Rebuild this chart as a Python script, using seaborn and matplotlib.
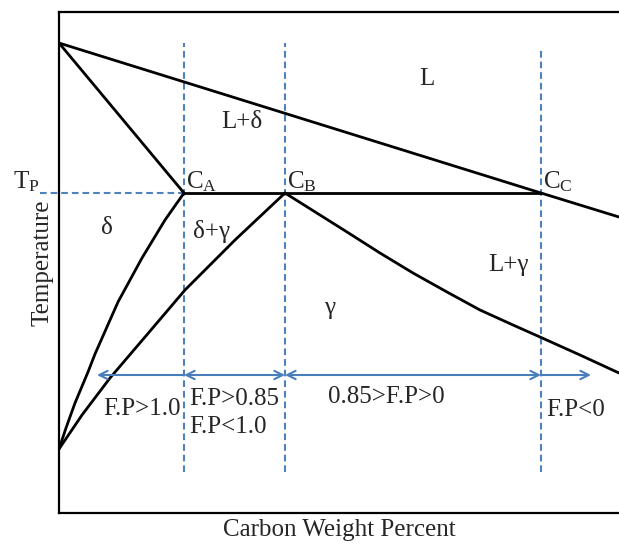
import matplotlib
matplotlib.use("Agg")
import matplotlib.pyplot as plt
import seaborn as sns
import pandas as pd

# ---- data (schematic units: carbon -> x, temperature -> y) ----
liq_c = [0, 482, 560]
liq_t = [470, 320, 296]
sol_delta_c = [0, 125]
sol_delta_t = [470, 320]
peritectic_c = [125, 482]
peritectic_t = [320, 320]
delta_c = [0, 7, 16, 29, 36, 59, 83, 106, 125]
delta_t = [64, 85, 110, 141, 159, 211, 255, 293, 320]
gamma_c = [0, 23, 51, 86, 126, 176, 226]
gamma_t = [64, 98, 135, 176, 223, 273, 320]
lgam_c = [226, 288, 321, 354, 388, 421, 454, 481, 521, 560]
lgam_t = [320, 281, 260, 240, 221, 203, 188, 176, 158, 140]

C_points = [125, 226, 482]          # C_A, C_B, C_C
C_names = ["A", "B", "C"]
T_P = 320
arrow_level = 138
fp_bounds = [38, 125, 226, 482, 532]
fp_labels = ["F.P>1.0", "F.P>0.85\nF.P<1.0", "0.85>F.P>0", "F.P<0"]

sns.set_theme(style="white")
plt.rcParams["font.family"] = ["Liberation Serif", "DejaVu Serif"]
plt.rcParams["mathtext.fontset"] = "custom"
plt.rcParams["mathtext.rm"] = "Liberation Serif"
plt.rcParams["mathtext.it"] = "Liberation Serif:italic"

W, H = 619, 547
fig = plt.figure(figsize=(W / 100, H / 100), dpi=100)
ax = fig.add_axes([59 / W, (H - 513) / H, 560 / W, 501 / H])
ax.set_xlim(0, 560)
ax.set_ylim(0, 501)

blue = "#4f81bd"
fs = 18

# dashed guide lines
for i, c in enumerate(C_points):
    top = 465 if i == 2 else 470
    ax.plot([c, c], [41, top], color=blue, lw=1.5, ls=(0, (3.2, 1.9)), zorder=1)
ax.plot([-19, C_points[0]], [T_P, T_P], color=blue, lw=1.5, ls=(0, (3.2, 1.9)),
        clip_on=False, zorder=1)

# phase boundaries
curves = [(liq_c, liq_t), (sol_delta_c, sol_delta_t), (peritectic_c, peritectic_t),
          (delta_c, delta_t), (gamma_c, gamma_t), (lgam_c, lgam_t)]
for cx, ct in curves:
    df = pd.DataFrame({"c": cx, "t": ct})
    sns.lineplot(data=df, x="c", y="t", sort=False, estimator=None,
                 color="black", lw=2.0, ax=ax, zorder=3)

# arrows
arrow_kw = dict(color="#4a7ebb", lw=1.5)
for i in range(4):
    if i == 0:
        x0, x1, st = fp_bounds[1], fp_bounds[0], "->"
    elif i == 3:
        x0, x1, st = fp_bounds[3], fp_bounds[4], "->"
    else:
        x0, x1, st = fp_bounds[i], fp_bounds[i + 1], "<->"
    ax.annotate("", xy=(x1, arrow_level), xytext=(x0, arrow_level),
                arrowprops=dict(arrowstyle=st + ",head_length=0.5,head_width=0.25",
                                shrinkA=0, shrinkB=0, **arrow_kw))

# region labels
ax.text(368, 434, "L", fontsize=fs, ha="center", va="center")
ax.text(183, 391, "L+δ", fontsize=fs, ha="center", va="center")
ax.text(48, 285, "δ", fontsize=fs, ha="center", va="center")
ax.text(153, 282, "δ+γ", fontsize=fs, ha="center", va="center")
ax.text(449, 248, "L+γ", fontsize=fs, ha="center", va="center")
ax.text(271, 205, "γ", fontsize=fs, ha="center", va="center")
ax.text(-46, 325, r"T$_\mathrm{P}$", fontsize=fs, ha="left", va="baseline",
        clip_on=False)
for c, n in zip(C_points, C_names):
    ax.text(c + 2, 325, r"C$_\mathrm{%s}$" % n, fontsize=fs, ha="left", va="baseline")

ax.text(83, 104, fp_labels[0], fontsize=fs, ha="center", va="center")
ax.text(130, 100, fp_labels[1], fontsize=fs, ha="left", va="center", linespacing=1.3)
ax.text(327, 116, fp_labels[2], fontsize=fs, ha="center", va="center")
ax.text(487, 103, fp_labels[3], fontsize=fs, ha="left", va="center")

ax.set_xticks([])
ax.set_yticks([])
ax.set_xlabel("Carbon Weight Percent", fontsize=fs, labelpad=4)
ax.set_ylabel("Temperature", fontsize=fs, labelpad=4)
for s in ["left", "top", "bottom"]:
    ax.spines[s].set_color("black")
    ax.spines[s].set_linewidth(1.6)
ax.spines["right"].set_visible(False)

fig.savefig("out.png", dpi=100)
